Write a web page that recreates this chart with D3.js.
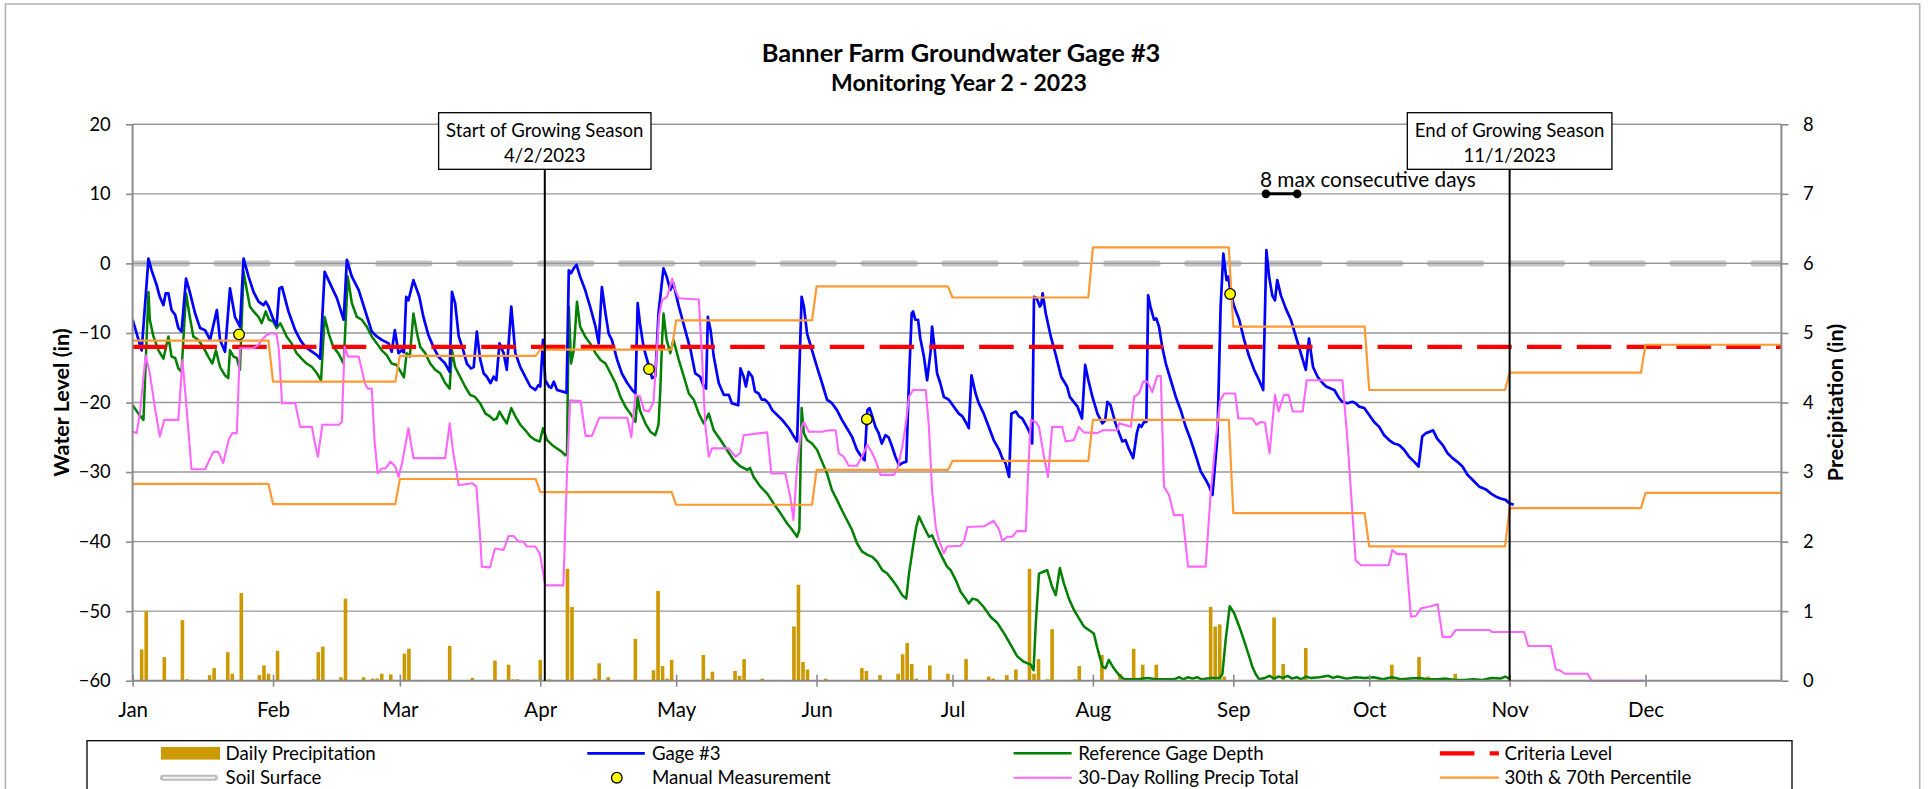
<!DOCTYPE html>
<html>
<head>
<meta charset="utf-8">
<script src="https://d3js.org/d3.v7.min.js"></script>
<style>
  body { margin: 0; background: #fff; }
  svg { display: block; font-family: Lato, "Open Sans", sans-serif; }
</style>
</head>
<body>
<svg id="chart" width="1929" height="789"></svg>
<script>
// ---------------------------------------------------------------------------
// Data. Times are days since 1 Jan 2023 (fractional = logger time of day).
// Water levels in inches relative to the soil surface; precipitation in inches.
// ---------------------------------------------------------------------------
const chartTitle = "Banner Farm Groundwater Gage #3";
const chartSubtitle = "Monitoring Year 2 - 2023";

const monthLabels = ["Jan","Feb","Mar","Apr","May","Jun","Jul","Aug","Sep","Oct","Nov","Dec"];
const levelTicks = [-60, -50, -40, -30, -20, -10, 0, 10, 20];
const precipTicks = [0, 1, 2, 3, 4, 5, 6, 7, 8];

const criteriaLevel = -12;
const soilSurface = 0;

const gage3 = [
  [0,-8.1],[2,-12.5],[3.5,0.7],[4.2,-1],[5.3,-3.1],[6,-4.8],[6.8,-6],[7.3,-4.3],[7.9,-4.3],[8.6,-6.7],
  [9.4,-7.4],[10.1,-9.3],[10.8,-9.8],[11.8,-2.2],[12.7,-4.3],[13.8,-7.2],[14.9,-9.3],[16,-9.6],[17.1,-11],
  [18.6,-6.7],[19.3,-11],[20.4,-12.7],[21.5,-3.6],[22.6,-7.7],[23.7,-9.1],[24.5,0.7],[25.6,-1.9],[26.7,-4.1],
  [27.8,-5.5],[28.9,-6],[29.4,-5.5],[30,-6.2],[31.1,-8.1],[31.8,-8.9],[32.4,-3.6],[33,-3.4],[34.4,-6.9],
  [35.9,-9.6],[37,-11],[38.1,-12],[39.2,-12.5],[40.7,-13.2],[41.4,-13.7],[42.4,-1.2],[43.6,-2.9],[45.1,-5],
  [46.6,-8.1],[47.3,0.5],[48.4,-1.9],[49.9,-3.8],[51.3,-6.7],[52.8,-9.8],[53.9,-10.5],[55,-11],[56.5,-11.5],
  [57.2,-12.7],[57.9,-9.6],[58.7,-12.9],[59.4,-12.5],[59.9,-12.8],[60.4,-4.8],[60.9,-5.3],[62,-2.4],[63.3,-4.8],
  [64.2,-7.7],[65.3,-10.3],[66.4,-12],[67.5,-13.4],[69,-14.4],[70,-15.6],[70.5,-4.1],[71.2,-5.7],[72,-10.5],
  [73,-12.5],[73.8,-14.4],[74.7,-15.1],[75.3,-14.9],[76,-9.8],[76.7,-13.7],[77.5,-15.8],[78.2,-16.3],[79,-17.2],
  [79.7,-16.3],[80.3,-16.8],[81,-11.5],[81.9,-12.9],[82.6,-15.3],[83.6,-6.2],[84.5,-12.9],[85.6,-14.9],
  [86.7,-16.3],[87.8,-17.7],[88.9,-18.2],[89.6,-17.5],[90,-17.7],[90.6,-11],[91.1,-16.8],[91.9,-17.7],
  [92.4,-17.9],[93,-17],[93.7,-18.2],[94.8,-18.4],[95.8,-18.6],[96.3,-1],[96.8,-1.4],[97.4,-0.7],[98,-0.2],
  [98.8,-1.9],[99.9,-3.8],[101,-6.2],[102.2,-9.1],[102.9,-11.5],[103.6,-3.4],[104.4,-7.2],[105.1,-10.1],
  [105.8,-11],[107,-13.9],[108,-15.8],[109.2,-17.2],[110.3,-18.2],[111,-18.7],[111.5,-5.7],[112,-8.6],
  [112.8,-12],[113.6,-13.9],[114.7,-16.5],[115.4,-16.2],[116.1,-7.2],[117.2,-0.7],[117.9,-1.9],[118.7,-3.8],
  [119.4,-2.9],[120.6,-6.2],[122,-9.6],[123.2,-12.5],[124.2,-15.8],[125.3,-16.3],[126.1,-17.7],[126.6,-18],
  [127,-7.7],[127.6,-9.6],[128.3,-13.4],[129.4,-17.2],[130.5,-18.9],[131.6,-18.9],[132.3,-20.1],[133.7,-20.4],
  [134.2,-15.1],[134.9,-16.3],[135.4,-17.7],[136,-15.6],[136.8,-16.3],[137.4,-18.4],[138.2,-18.7],[138.9,-19.6],
  [139.6,-19.6],[140.4,-20.1],[141.2,-21.1],[142.3,-21.8],[143.4,-22.5],[144.9,-23.7],[146,-24.9],[146.7,-25.6],
  [147.7,-4.8],[148.2,-6.2],[148.9,-10.1],[150,-12.5],[151.1,-14.9],[152.2,-17.2],[153.3,-19.6],[154.4,-20.1],
  [155.5,-21.1],[156.6,-22.5],[157.7,-23.7],[158.8,-24.9],[159.9,-26.8],[160.9,-27.8],[161.6,-28.3],[162.2,-21.1],
  [162.7,-20.8],[163.3,-22],[164,-23.5],[164.7,-24.4],[165.4,-25.9],[166.2,-24.7],[166.9,-25],[167.7,-26.4],
  [168.4,-27.8],[169.2,-29],[169.9,-28.7],[170.8,-28.5],[171.4,-16.8],[172,-7.2],[172.3,-6.9],[172.8,-8.1],
  [173.4,-8.1],[173.9,-10.8],[174.7,-13.4],[175.4,-16.8],[176.2,-12.5],[176.5,-9.1],[177.1,-12.5],[177.6,-15.8],
  [178.3,-17.2],[179.1,-19.2],[180.2,-19.6],[181.3,-20.6],[182.4,-21.6],[183.2,-22],[183.9,-22.8],[184.6,-23.7],
  [185.2,-16.1],[186.1,-18.7],[186.8,-20.1],[187.9,-21.6],[189,-23.5],[190.1,-25.4],[191.3,-26.8],[192,-28],
  [192.7,-28.7],[193.5,-30.7],[194,-21.6],[195,-21.3],[195.7,-22],[196.4,-22.3],[197.2,-23.2],[198.1,-24.4],
  [198.6,-25.9],[199,-4.8],[199.6,-5],[200.3,-6.2],[200.6,-5.9],[200.9,-4.3],[201.6,-7.2],[202.7,-10.5],
  [203.9,-13.4],[205,-16.3],[206.3,-17.7],[206.9,-19.2],[208.6,-20.6],[209.6,-22.3],[210.3,-14.6],[211,-16.8],
  [211.9,-19.2],[213,-21.6],[214.1,-23],[214.7,-22.6],[215.2,-19.9],[215.9,-20.4],[217,-23],[217.8,-24.4],
  [218.5,-25.6],[219.2,-25.4],[219.9,-26.6],[220.9,-28],[221.7,-24.4],[222.2,-23.2],[222.7,-23.5],[223.3,-22.8],
  [223.8,-22.8],[224.2,-4.6],[224.7,-6.2],[225.5,-8.1],[226,-7.9],[226.6,-9.1],[227.3,-12],[228.1,-14.4],
  [229.2,-16.8],[230.3,-19.2],[231.4,-21.1],[232.5,-23.5],[233.6,-25.4],[234.7,-27.6],[235.8,-29.9],
  [236.9,-31.1],[237.7,-32.1],[238.4,-33.3],[239.5,-24.9],[240.2,-6.2],[240.8,1.4],[241.5,-2.4],[241.9,-1.9],
  [242.4,-4.3],[243.2,-6.2],[244.3,-8.1],[245.4,-11],[246.5,-13.4],[247.6,-15.3],[248.7,-16.8],[249.6,-18.2],
  [250.3,1.9],[250.9,-1.9],[251.6,-4.6],[252.2,-5.3],[252.7,-2.4],[253.5,-4.6],[254.6,-6.5],[255.7,-8.1],
  [256.8,-10.5],[257.9,-12.9],[259,-15.3],[259.7,-10.8],[260.6,-14.9],[261.6,-16.3],[262.7,-17.2],[263.5,-17.7],
  [264.5,-18],[265.3,-18.2],[266.4,-19.4],[267.1,-19.9],[268.2,-20.1],[269.3,-19.9],[270,-20.1],[270.8,-20.6],
  [271.9,-20.8],[273,-21.8],[274.1,-22.8],[275.2,-23.5],[276.3,-24.7],[277.4,-25.4],[278.5,-25.9],[279.6,-26.1],
  [280.7,-26.8],[281.8,-27.8],[282.9,-28.5],[283.9,-29.2],[284.7,-24.9],[285.5,-24.4],[286.4,-24.2],[287.1,-24],
  [288,-25.2],[289.2,-26.1],[290.3,-27.3],[291.4,-28],[292.4,-28.5],[293.6,-29.2],[294.7,-30.4],[295.8,-31.1],
  [297.3,-32.1],[298.8,-32.5],[299.9,-33.1],[300.9,-33.5],[302,-33.8],[303.1,-34],[304,-34.5],[304.9,-34.7]
];

const referenceGage = [
  [0,-20.4],[1.3,-21.6],[2.4,-22.5],[3.5,-4.1],[3.8,-8.1],[4.6,-10.5],[5.7,-12.5],[6.8,-13.7],[7.9,-10.5],
  [8.6,-13.4],[9.4,-13.6],[10.1,-15.1],[10.8,-15.6],[11.8,-4.3],[12.5,-7.2],[13.4,-10.5],[14.5,-11],[15.6,-12],
  [16.7,-13.4],[17.6,-14.4],[18.4,-12.5],[19.3,-14.9],[20.4,-16.1],[21.1,-16.5],[21.5,-12.5],[22.3,-13.4],
  [23,-13.6],[23.7,-15.3],[24.5,-1.2],[25.2,-3.8],[25.9,-6.2],[26.7,-6.9],[27.8,-7.7],[28.5,-8.6],[29.4,-6.9],
  [30.1,-8.1],[31.1,-8.4],[31.8,-9.3],[32.6,-8.6],[33.3,-9.5],[34,-10.5],[35.1,-11.5],[36.2,-12.9],[37.3,-13.7],
  [38.4,-14.4],[39.6,-14.9],[40.7,-15.8],[41.6,-16.8],[42.4,-7.7],[43.3,-10.1],[44.3,-12],[45.4,-12.9],
  [46.6,-14.4],[47.5,-1.9],[48.4,-5.7],[49.5,-7.7],[50.6,-8.1],[51.7,-9.1],[52.8,-10.5],[53.9,-11.5],[55,-12.5],
  [56.1,-13.2],[57.2,-14.4],[58.3,-14.6],[59.4,-15.8],[59.9,-16.4],[60.5,-12.9],[61.2,-13.4],[62,-7.2],
  [62.8,-10.1],[63.5,-12],[64.6,-12.9],[65.7,-14.4],[66.8,-15.3],[67.9,-15.8],[69,-17.2],[70,-18],[70.5,-12.5],
  [71.2,-14.9],[72.3,-16.3],[73.4,-17.7],[74.5,-18.9],[75.6,-19.2],[76.7,-20.1],[77.9,-21.6],[78.9,-22],
  [79.7,-22.5],[80.4,-22.3],[81,-21.3],[81.9,-22.3],[82.6,-23],[83.6,-20.8],[84.5,-22],[85.6,-23.2],[86.7,-24],
  [87.8,-24.9],[88.9,-25.4],[89.9,-25.6],[90.6,-23.7],[91.5,-25.4],[92.6,-26.1],[93.7,-26.6],[94.8,-27.1],
  [95.5,-27.6],[95.9,-27.4],[96.3,-6.2],[96.8,-14.4],[97.4,-12.5],[98.1,-5.5],[98.8,-9.1],[99.9,-10.5],
  [101,-11.5],[102.2,-12.9],[103.3,-13.9],[104.4,-14.4],[105.5,-15.8],[106.6,-17.2],[107.7,-19.2],[108.8,-20.6],
  [109.9,-21.6],[111,-22.8],[111.5,-19.2],[112,-21.1],[113.2,-23],[114.3,-24.2],[115.4,-24.7],[116.1,-23.2],
  [116.5,-18.2],[116.9,-11],[117.2,-7.2],[117.9,-11],[118.7,-12.9],[119.4,-11],[120.6,-13.9],[121.7,-16.3],
  [122.8,-18.7],[123.9,-19.6],[125,-21.6],[126.1,-23],[127.2,-21.6],[128.3,-24],[129.8,-25.4],[131.2,-26.8],
  [132.7,-28.3],[134.2,-29.2],[135.7,-29.7],[136.3,-29.4],[137.1,-30.7],[138.6,-32.1],[140.1,-33.1],[141.5,-34.5],
  [143,-35.9],[144.5,-37.4],[145.6,-38.3],[146.7,-39.3],[147.2,-38.3],[147.7,-20.8],[148.2,-24.4],[148.9,-25.4],
  [150,-25.9],[151.1,-26.8],[152.2,-28.5],[153.3,-30.2],[154.4,-32.6],[155.5,-34],[156.6,-35.5],[157.7,-36.9],
  [158.8,-38.3],[159.9,-40.2],[161,-41.4],[162.2,-41.9],[163.3,-42.2],[164.4,-42.9],[165.5,-44.1],[166.6,-44.6],
  [167.7,-45.5],[168.8,-46.5],[169.9,-47.7],[170.8,-48.2],[171.4,-44.6],[172.3,-40.7],[173,-37.9],[173.6,-36.4],
  [174.7,-37.9],[175.8,-39.3],[176.5,-39.1],[177.6,-40.7],[178.7,-42.2],[179.8,-43.6],[180.6,-44.1],[181.7,-45.5],
  [182.8,-47.2],[183.9,-48.2],[184.6,-48.9],[185.4,-48.2],[186.5,-48.4],[187.9,-49.4],[189.4,-50.8],[190.9,-51.7],
  [192.4,-53.2],[193.9,-54.9],[195.3,-56.5],[196.8,-57.3],[198.3,-57.7],[198.9,-58.5],[199.4,-51.7],[200.1,-44.6],
  [201.2,-44.3],[201.9,-44.1],[203,-46.5],[203.8,-47.7],[204.7,-43.8],[205.6,-46],[206.7,-48.2],[207.8,-49.8],
  [208.9,-51],[210,-52.2],[211.1,-52.7],[212.2,-53.2],[212.9,-55.1],[214.1,-58],[214.8,-58.2],[215.5,-57],
  [216.6,-58.2],[217.8,-59.2],[218.9,-59.8],[222,-59.8],[224,-59.6],[226,-59.8],[230,-59.8],[231,-59.5],
  [232,-59.8],[233,-59.5],[234,-59.7],[235,-59.5],[236,-59.8],[238.1,-59.6],[240,-59.6],[240.6,-59],[241.3,-54.2],
  [242.2,-49.3],[243.2,-50.3],[244.3,-52.2],[245.1,-53.7],[245.8,-55.1],[246.5,-56.5],[247.2,-58],[247.9,-59],
  [248.7,-59.8],[250,-59.6],[251,-59.3],[252,-59.7],[253,-59.4],[254,-59.6],[255,-59.3],[256,-59.7],[257,-59.5],
  [258,-59.8],[259,-59.4],[260,-59.6],[262,-59.5],[264,-59.3],[265,-59.6],[266,-59.4],[268,-59.7],[270,-59.5],
  [272,-59.6],[274,-59.5],[276,-59.8],[278,-59.5],[280,-59.8],[282,-59.7],[284,-59.6],[286,-59.8],[288,-59.8],
  [290,-59.7],[292,-59.9],[294,-59.9],[296,-59.8],[298,-59.9],[300,-59.6],[302,-59.7],[303,-59.4],[304,-59.7]
];

// 30-day rolling precipitation total (in)
const rollingPrecip = [
  [0,3.58],[0.9,3.56],[1.6,3.84],[2.9,4.68],[3.8,4.42],[4.9,3.94],[6,3.51],[7,3.75],[10.1,3.75],[11,4.61],
  [11.9,3.94],[13,3.04],[16,3.04],[17.8,3.29],[18.9,3.29],[20,3.13],[21.2,3.46],[22,3.56],[23,3.56],[23.7,4.78],
  [26.7,4.78],[27.8,4.83],[28.5,4.9],[29.6,4.97],[30.7,5.0],[31.8,4.98],[32.3,4.75],[33,3.99],[35.9,3.99],
  [37,3.65],[39.6,3.65],[40.1,3.46],[40.9,3.22],[41.9,3.68],[45.5,3.68],[46.2,3.72],[46.8,4.8],[47.6,4.66],
  [49.9,4.66],[50.6,4.47],[51.3,4.27],[51.9,4.2],[52.8,4.2],[53.4,3.46],[54.1,2.98],[55,3.05],[55.8,3.05],
  [56.9,3.15],[58,3.08],[58.7,2.93],[59.4,3.1],[60.9,3.63],[62,3.2],[69,3.2],[70,3.7],[70.8,3.27],[72,2.81],
  [74.9,2.84],[75.9,2.79],[76.7,2.09],[77.1,1.64],[78.9,1.63],[80,1.9],[81.9,1.88],[83,2.08],[84.1,2.08],
  [85.2,2.0],[86.3,2.0],[87,1.93],[88.9,1.93],[89.9,1.83],[90.4,1.64],[91.1,1.37],[95.1,1.37],[95.9,2.98],
  [96.6,4.03],[98.9,4.02],[100,3.52],[101.4,3.52],[102.2,3.65],[103,3.78],[109.2,3.78],[110.1,3.5],[111,4.11],
  [112,4.09],[112.9,3.89],[114,3.87],[115,4.01],[116.2,5.23],[116.9,5.47],[118,5.52],[119.1,5.78],[119.8,5.62],
  [120.6,5.5],[125,5.48],[125.7,4.66],[126.4,3.7],[127.2,3.22],[127.9,3.34],[131.6,3.34],[133.1,3.22],
  [134.2,3.28],[134.9,3.53],[138.6,3.56],[140.1,3.57],[141,2.98],[144.1,2.98],[145.2,2.64],[145.9,2.31],
  [146.7,3.08],[147.7,3.65],[148.2,3.72],[149.3,3.58],[152.2,3.58],[153.7,3.6],[155.2,3.6],[155.9,3.27],
  [157,3.22],[158.1,3.09],[159.9,3.09],[161,3.22],[162.2,3.39],[163.3,3.27],[164,3.17],[165.1,2.96],[168.1,2.96],
  [169,3.08],[169.9,3.36],[170.6,3.65],[171.4,4.08],[172.3,4.18],[175.1,4.18],[175.8,3.65],[176.5,2.74],
  [177.3,2.21],[178,2.02],[179.1,1.83],[179.8,1.93],[182.8,1.94],[183.6,2.02],[184.3,2.21],[188,2.22],
  [190.1,2.3],[191.3,2.17],[192,2.01],[193.1,2.07],[194.2,2.07],[195.2,2.15],[197.2,2.15],[197.7,2.98],
  [198.3,3.75],[199.4,3.72],[200.1,3.65],[201.2,3.22],[202.1,2.93],[203,3.65],[205.2,3.65],[206,3.44],
  [207.8,3.46],[208.9,3.65],[210,3.57],[213,3.56],[214.1,3.6],[217.4,3.6],[217.8,3.7],[218.9,3.68],[220.4,3.65],
  [221.1,4.08],[222.2,4.13],[223.1,4.3],[224,4.3],[225.1,4.15],[226.2,4.38],[227,4.38],[227.7,2.79],[228.8,2.67],
  [229.9,2.38],[231.8,2.38],[233,1.64],[236.9,1.64],[238,2.69],[239.1,3.46],[240.1,4.03],[241,4.13],[243.4,4.13],
  [244.1,3.77],[247.2,3.77],[248.1,3.68],[249.1,3.72],[250,3.71],[251,3.27],[252.2,4.11],[253,3.87],[254.2,4.11],
  [255.2,4.11],[256.1,3.87],[258.3,3.87],[259.2,4.32],[267.1,4.32],[268.2,3.46],[269.2,2.5],[270,1.73],
  [271.2,1.66],[277.3,1.66],[278.1,1.88],[279.2,1.82],[281.1,1.82],[282.2,0.92],[283.3,0.93],[284.4,1.04],
  [285.9,1.06],[288.1,1.1],[289.2,0.63],[291,0.63],[292.1,0.73],[299.5,0.73],[300.2,0.7],[307.2,0.7],[308.1,0.5],
  [313.1,0.5],[314.2,0.16],[315.1,0.15],[316.2,0.1],[321.2,0.1],[322.1,0],[333.4,0]
];

// Daily precipitation (in), day since 1 Jan
const dailyPrecip = [
  [2,0.45],[3,1.0],[7,0.34],[11,0.87],[12,0.02],[17,0.08],[18,0.18],[21,0.41],[22,0.1],[24,1.26],[28,0.08],
  [29,0.22],[30,0.1],[32,0.43],[40,0.02],[41,0.41],[42,0.49],[46,0.05],[47,1.18],[51,0.05],[53,0.03],[54,0.03],
  [55,0.1],[57,0.09],[60,0.39],[61,0.46],[70,0.5],[75,0.04],[80,0.29],[83,0.23],[84,0.02],[85,0.02],[90,0.3],
  [92,0.02],[96,1.61],[97,1.06],[102,0.03],[103,0.25],[105,0.05],[111,0.6],[115,0.15],[116,1.29],[117,0.21],
  [118,0.03],[119,0.3],[126,0.37],[127,0.03],[128,0.13],[133,0.14],[134,0.07],[135,0.31],[139,0.03],[146,0.78],
  [147,1.38],[148,0.27],[149,0.16],[153,0.03],[161,0.18],[162,0.14],[165,0.08],[169,0.1],[170,0.38],[171,0.54],
  [172,0.24],[173,0.03],[176,0.22],[180,0.1],[184,0.31],[189,0.06],[190,0.03],[193,0.08],[195,0.16],[198,1.61],
  [199,0.1],[200,0.31],[202,0.02],[203,0.74],[208,0.02],[209,0.21],[214,0.37],[218,0.1],[221,0.46],[223,0.23],
  [226,0.23],[238,1.06],[239,0.78],[240,0.81],[241,0.06],[252,0.91],[254,0.24],[259,0.47],[278,0.23],[284,0.34],
  [286,0.06],[292,0.1]
];

// Hand readings of the well (in)
const manualMeasurements = [[23.5,-10.2],[114,-15.2],[162.1,-22.4],[242.3,-4.4]];

// Monthly 30th / 70th percentile of 30-day precipitation (in), Jan..Dec
const percentile70 = [4.89, 4.30, 4.67, 4.76, 5.18, 5.67, 5.51, 6.23, 5.09, 4.18, 4.43, 4.83];
const percentile30 = [2.83, 2.54, 2.90, 2.71, 2.53, 3.03, 3.16, 3.75, 2.41, 1.93, 2.48, 2.70];

// Growing season and longest run above criteria
const seasonMarks = [
  { label: "Start of Growing Season", date: "4/2/2023", day: 91 },
  { label: "End of Growing Season", date: "11/1/2023", day: 304 }
];
const longestRun = { label: "8 max consecutive days", startDay: 250.2, endDay: 257.1, level: 10 };

const legendLabels = [
  "Daily Precipitation", "Gage #3", "Reference Gage Depth", "Criteria Level",
  "Soil Surface", "Manual Measurement", "30-Day Rolling Precip Total", "30th & 70th Percentile"
];

// ---------------------------------------------------------------------------
// Styles
// ---------------------------------------------------------------------------
const style = {
  gage:      { stroke: "#0000ff", width: 2.7 },
  reference: { stroke: "#008000", width: 2.5 },
  criteria:  { stroke: "#ff0000", width: 4.2, dash: "34.5,15.3" },
  soil:      { stroke: "#c4c4c4", width: 6, dash: "51.5,29.4" },
  rolling:   { stroke: "#ff66ff", width: 2.1 },
  pct:       { stroke: "#ff9933", width: 2.2 },
  bar:       { fill: "#cc9900" },
  marker:    { fill: "#ffff00", r: 5.3 },
  grid:      "#979797",
  axis:      "#8a8a8a"
};

const svg = d3.select("#chart");

// Font sizes are chosen so each text block spans its design width (px).
function sizeFor(sample, weight, span) {
  const t = svg.append("text").attr("font-size", 100).attr("font-weight", weight).text(sample);
  const w = t.node().getComputedTextLength();
  t.remove();
  return 100 * span / w;
}
const fs = {
  title:     sizeFor(chartTitle, 700, 399),
  subtitle:  sizeFor(chartSubtitle, 700, 256),
  yTick:     sizeFor("-10", 400, 28.1),
  month:     sizeFor("May", 400, 39.3),
  axisTitle: sizeFor("Water Level (in)", 700, 148.5),
  legend:    (sizeFor("Daily Precipitation", 400, 150.5) + sizeFor("Reference Gage Depth", 400, 185.3) +
              sizeFor("30-Day Rolling Precip Total", 400, 221) + sizeFor("30th & 70th Percentile", 400, 186.5)) / 4,
  season:    (sizeFor("Start of Growing Season", 400, 198) + sizeFor("End of Growing Season", 400, 189.3)) / 2,
  run:       sizeFor(longestRun.label, 400, 216)
};

// ---------------------------------------------------------------------------
// Layout and scales
// ---------------------------------------------------------------------------
const plot = { left: 132.6, right: 1781.4, top: 124.3, bottom: 680.7 };
const t0 = new Date(2023, 0, 1);
const dayDate = d => new Date(t0.getTime() + d * 864e5);

const x = d3.scaleTime().domain([t0, new Date(2023, 11, 31)]).range([plot.left, plot.right]);
const yL = d3.scaleLinear().domain([-60, 20]).range([plot.bottom, plot.top]);
const yR = d3.scaleLinear().domain([0, 8]).range([plot.bottom, plot.top]);

// chart frame
svg.insert("rect", ":first-child")
  .attr("x", 5.4).attr("y", 4).attr("width", 1914.3).attr("height", 820)
  .attr("fill", "#fff").attr("stroke", "#b4b4b4").attr("stroke-width", 1.6);

// titles
svg.append("text").attr("x", 961).attr("y", 61.5).attr("text-anchor", "middle")
  .attr("font-weight", 700).attr("font-size", fs.title).text(chartTitle);
svg.append("text").attr("x", 959).attr("y", 90.5).attr("text-anchor", "middle")
  .attr("font-weight", 700).attr("font-size", fs.subtitle).text(chartSubtitle);

svg.append("defs").append("clipPath").attr("id", "plotClip")
  .append("rect").attr("x", plot.left).attr("y", 0)
  .attr("width", plot.right - plot.left).attr("height", plot.bottom + 2);

// gridlines
const grid = svg.append("g");
grid.selectAll("line").data(levelTicks.filter(v => v > -60)).join("line")
  .attr("x1", plot.left).attr("x2", plot.right)
  .attr("y1", d => yL(d)).attr("y2", d => yL(d))
  .attr("stroke", style.grid).attr("stroke-width", 1.4);

// daily precipitation bars (right axis)
svg.append("g").selectAll("rect").data(dailyPrecip).join("rect")
  .attr("x", d => x(dayDate(d[0])) - 1.8)
  .attr("width", 3.6)
  .attr("y", d => yR(d[1]))
  .attr("height", d => plot.bottom - yR(d[1]))
  .attr("fill", style.bar.fill);

const series = svg.append("g").attr("clip-path", "url(#plotClip)");

// soil surface (double line over the zero gridline)
series.append("line")
  .attr("x1", plot.left + 2.8).attr("x2", plot.right + 4)
  .attr("y1", yL(soilSurface)).attr("y2", yL(soilSurface))
  .attr("stroke", style.soil.stroke).attr("stroke-width", style.soil.width)
  .attr("stroke-linecap", "round").attr("stroke-dasharray", style.soil.dash);
series.append("line")
  .attr("x1", plot.left).attr("x2", plot.right)
  .attr("y1", yL(soilSurface)).attr("y2", yL(soilSurface))
  .attr("stroke", style.grid).attr("stroke-width", 1.3);

const lineL = d3.line().x(d => x(dayDate(d[0]))).y(d => yL(d[1]));
const lineR = d3.line().x(d => x(dayDate(d[0]))).y(d => yR(d[1]));

series.append("path").datum(referenceGage).attr("d", lineL)
  .attr("fill", "none").attr("stroke", style.reference.stroke)
  .attr("stroke-width", style.reference.width).attr("stroke-linejoin", "round");
series.append("path").datum(gage3).attr("d", lineL)
  .attr("fill", "none").attr("stroke", style.gage.stroke)
  .attr("stroke-width", style.gage.width).attr("stroke-linejoin", "round");

// criteria level
series.append("line")
  .attr("x1", plot.left).attr("x2", plot.right)
  .attr("y1", yL(criteriaLevel)).attr("y2", yL(criteriaLevel))
  .attr("stroke", style.criteria.stroke).attr("stroke-width", style.criteria.width)
  .attr("stroke-dasharray", style.criteria.dash);

// 30-day rolling total and monthly percentile bands (right axis)
series.append("path").datum(rollingPrecip).attr("d", lineR)
  .attr("fill", "none").attr("stroke", style.rolling.stroke)
  .attr("stroke-width", style.rolling.width).attr("stroke-linejoin", "round");

const monthSteps = values => values.flatMap((v, m) => [
  [new Date(2023, m, 1), v], [new Date(2023, m + 1, 0), v]
]);
const stepLine = d3.line().x(d => x(d[0])).y(d => yR(d[1]));
[percentile70, percentile30].forEach(vals => {
  series.append("path").datum(monthSteps(vals)).attr("d", stepLine)
    .attr("fill", "none").attr("stroke", style.pct.stroke)
    .attr("stroke-width", style.pct.width).attr("stroke-linejoin", "round");
});

// manual measurements
svg.append("g").selectAll("circle").data(manualMeasurements).join("circle")
  .attr("cx", d => x(dayDate(d[0]))).attr("cy", d => yL(d[1])).attr("r", style.marker.r)
  .attr("fill", style.marker.fill).attr("stroke", "#000").attr("stroke-width", 1.3);

// ---------------------------------------------------------------------------
// Axes
// ---------------------------------------------------------------------------
const axisStyle = size => g => {
  g.select(".domain").remove();
  g.selectAll(".tick line").attr("stroke", style.axis).attr("stroke-width", 1.6);
  g.selectAll("text").attr("fill", "#000").attr("font-size", size).attr("font-family", "Lato");
};

svg.append("g").attr("transform", `translate(${plot.left},0)`)
  .call(d3.axisLeft(yL).tickValues(levelTicks).tickSize(6.5).tickPadding(15.4))
  .call(axisStyle(fs.yTick));

svg.append("g").attr("transform", `translate(${plot.right},0)`)
  .call(d3.axisRight(yR).tickValues(precipTicks).tickFormat(d3.format("d")).tickSize(7).tickPadding(14.6))
  .call(axisStyle(fs.yTick));

const xAxis = svg.append("g").attr("transform", `translate(0,${plot.bottom})`)
  .call(d3.axisBottom(x).ticks(d3.timeMonth.every(1))
    .tickFormat(d => monthLabels[d.getMonth()]).tickSize(6))
  .call(axisStyle(fs.month));
xAxis.selectAll(".tick line").attr("y1", -6).attr("y2", 6);
xAxis.selectAll(".tick text").attr("y", 36.6).attr("dy", 0);

// axis lines
svg.append("g").attr("stroke", style.axis).attr("stroke-width", 2)
  .selectAll("line")
  .data([
    [plot.left, plot.top, plot.left, plot.bottom],
    [plot.right, plot.top, plot.right, plot.bottom],
    [plot.left, plot.bottom, plot.right, plot.bottom]
  ]).join("line")
  .attr("x1", d => d[0]).attr("y1", d => d[1]).attr("x2", d => d[2]).attr("y2", d => d[3]);

// axis titles
const midY = (plot.top + plot.bottom) / 2;
svg.append("text")
  .attr("transform", `translate(68.5,${midY}) rotate(-90)`)
  .attr("text-anchor", "middle").attr("font-weight", 700).attr("font-size", fs.axisTitle)
  .text("Water Level (in)");
svg.append("text")
  .attr("transform", `translate(1843,${midY}) rotate(-90)`)
  .attr("text-anchor", "middle").attr("font-weight", 700).attr("font-size", fs.axisTitle)
  .text("Precipitation (in)");

// ---------------------------------------------------------------------------
// Growing season markers
// ---------------------------------------------------------------------------
seasonMarks.forEach(s => {
  const cx = x(dayDate(s.day));
  const g = svg.append("g");
  g.append("line").attr("x1", cx).attr("x2", cx).attr("y1", 169.3).attr("y2", plot.bottom)
    .attr("stroke", "#000").attr("stroke-width", 2);
  const box = g.append("rect").attr("fill", "#fff").attr("stroke", "#000").attr("stroke-width", 1.3);
  const t1 = g.append("text").attr("x", cx).attr("y", 136.7).attr("text-anchor", "middle")
    .attr("font-size", fs.season).text(s.label);
  g.append("text").attr("x", cx).attr("y", 161.7).attr("text-anchor", "middle")
    .attr("font-size", fs.season).text(s.date);
  const w = t1.node().getComputedTextLength() + 15;
  box.attr("x", cx - w / 2).attr("y", 112.7).attr("width", w).attr("height", 56.6);
});

// longest run annotation
{
  const y0 = yL(longestRun.level);
  const xa = x(dayDate(longestRun.startDay)), xb = x(dayDate(longestRun.endDay));
  const g = svg.append("g");
  g.append("line").attr("x1", xa).attr("x2", xb).attr("y1", y0).attr("y2", y0)
    .attr("stroke", "#000").attr("stroke-width", 3);
  g.selectAll("circle").data([xa, xb]).join("circle")
    .attr("cx", d => d).attr("cy", y0).attr("r", 4.3).attr("fill", "#000");
  g.append("text").attr("x", xa - 6).attr("y", 186.7).attr("font-size", fs.run)
    .text(longestRun.label);
}

// ---------------------------------------------------------------------------
// Legend
// ---------------------------------------------------------------------------
const legend = svg.append("g");
legend.append("rect").attr("x", 87).attr("y", 740.7).attr("width", 1705).attr("height", 80)
  .attr("fill", "#fff").attr("stroke", "#000").attr("stroke-width", 1.3);

const swatchW = 59, colW = 426.3, col0 = 161, rowY = [753.3, 777.7];
const swatches = [
  g => g.append("rect").attr("x", 0).attr("y", -6.3).attr("width", swatchW).attr("height", 12.6)
        .attr("fill", style.bar.fill),
  g => g.append("line").attr("x2", swatchW - 1.5).attr("stroke", style.gage.stroke).attr("stroke-width", style.gage.width),
  g => g.append("line").attr("x2", swatchW - 1).attr("stroke", style.reference.stroke).attr("stroke-width", style.reference.width),
  g => g.append("line").attr("x2", swatchW).attr("stroke", style.criteria.stroke)
        .attr("stroke-width", style.criteria.width).attr("stroke-dasharray", style.criteria.dash),
  g => {
    g.append("line").attr("x1", 2).attr("x2", swatchW - 5).attr("stroke", "#bdbdbd")
      .attr("stroke-width", 6).attr("stroke-linecap", "round");
    g.append("line").attr("x1", 2).attr("x2", swatchW - 5).attr("stroke", "#f4f4f4").attr("stroke-width", 2);
  },
  g => g.append("circle").attr("cx", swatchW / 2).attr("r", style.marker.r).attr("fill", style.marker.fill)
        .attr("stroke", "#000").attr("stroke-width", 1.3),
  g => g.append("line").attr("x2", swatchW - 1).attr("stroke", style.rolling.stroke).attr("stroke-width", style.rolling.width),
  g => g.append("line").attr("x2", swatchW).attr("stroke", style.pct.stroke).attr("stroke-width", style.pct.width)
];

legendLabels.forEach((label, i) => {
  const col = i % 4, row = Math.floor(i / 4);
  const g = legend.append("g").attr("transform", `translate(${col0 + col * colW},${rowY[row]})`);
  swatches[i](g);
  g.append("text").attr("x", swatchW + 5.6).attr("y", 6.3).attr("font-size", fs.legend).text(label);
});
</script>
</body>
</html>
